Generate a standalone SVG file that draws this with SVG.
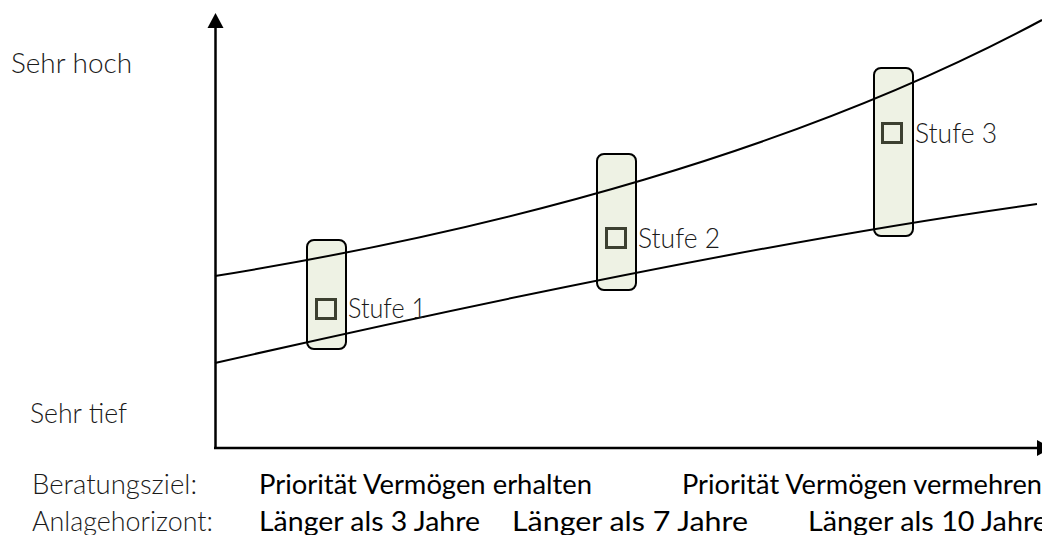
<svg xmlns="http://www.w3.org/2000/svg" width="1042" height="535" viewBox="0 0 1042 535">
<style>
.lt{font-family:Lato,"Liberation Sans",sans-serif;font-weight:300;font-size:27px;fill:#1a1a1a}
.md{font-family:Lato,"Liberation Sans",sans-serif;font-weight:400;font-size:27px;fill:#000}
.band{fill:#eef2e4;stroke:#000;stroke-width:2}
.sq{fill:none;stroke:#3c4030;stroke-width:3}
.ax{stroke:#000;stroke-width:2.5;fill:none}
.cv{stroke:#000;stroke-width:2;fill:none}
</style>
<rect width="1042" height="535" fill="#fff"/>
<g id="connectors">
<line class="ax" x1="215.5" y1="26" x2="215.5" y2="448"/>
<polygon points="215.5,13 207.5,28 223.5,28" fill="#000"/>
<line class="ax" x1="214" y1="448" x2="1038" y2="448"/>
<polygon points="1052,448 1037,440 1037,456" fill="#000"/>
</g>
<g id="band1"><rect class="band" x="307" y="240" width="39" height="109" rx="7"/></g>
<g id="band2"><rect class="band" x="597" y="154" width="39" height="136" rx="7"/></g>
<g id="band3"><rect class="band" x="874" y="68" width="39" height="168" rx="7"/></g>
<g id="curves">
<path class="cv" d="M215,276 C500,230 800,150 1042,20"/>
<path class="cv" d="M215,363 Q714,249 1037,204"/>
</g>
<g id="stufe1"><rect class="sq" x="316.5" y="299.5" width="19" height="19"/><text class="lt" x="348" y="318" textLength="78" lengthAdjust="spacingAndGlyphs">Stufe 1</text></g>
<g id="stufe2"><rect class="sq" x="606.5" y="228.5" width="19" height="19"/><text class="lt" x="638" y="248" textLength="82" lengthAdjust="spacingAndGlyphs">Stufe 2</text></g>
<g id="stufe3"><rect class="sq" x="882.5" y="123.5" width="19" height="19"/><text class="lt" x="915" y="143" textLength="82" lengthAdjust="spacingAndGlyphs">Stufe 3</text></g>
<g id="labels">
<text class="lt" x="11" y="73" textLength="121" lengthAdjust="spacingAndGlyphs">Sehr hoch</text>
<text class="lt" x="30" y="423" textLength="97" lengthAdjust="spacingAndGlyphs">Sehr tief</text>
<text class="lt" x="32" y="494" textLength="165" lengthAdjust="spacingAndGlyphs">Beratungsziel:</text>
<text class="lt" x="32" y="531" textLength="181" lengthAdjust="spacingAndGlyphs">Anlagehorizont:</text>
<text class="md" x="259" y="494" textLength="333" lengthAdjust="spacingAndGlyphs">Priorität Vermögen erhalten</text>
<text class="md" x="682" y="494" textLength="360" lengthAdjust="spacingAndGlyphs">Priorität Vermögen vermehren</text>
<text class="md" x="259" y="531" textLength="221" lengthAdjust="spacingAndGlyphs">Länger als 3 Jahre</text>
<text class="md" x="512" y="531" textLength="236" lengthAdjust="spacingAndGlyphs">Länger als 7 Jahre</text>
<text class="md" x="808" y="531" textLength="240" lengthAdjust="spacingAndGlyphs">Länger als 10 Jahre</text>
</g>
</svg>
